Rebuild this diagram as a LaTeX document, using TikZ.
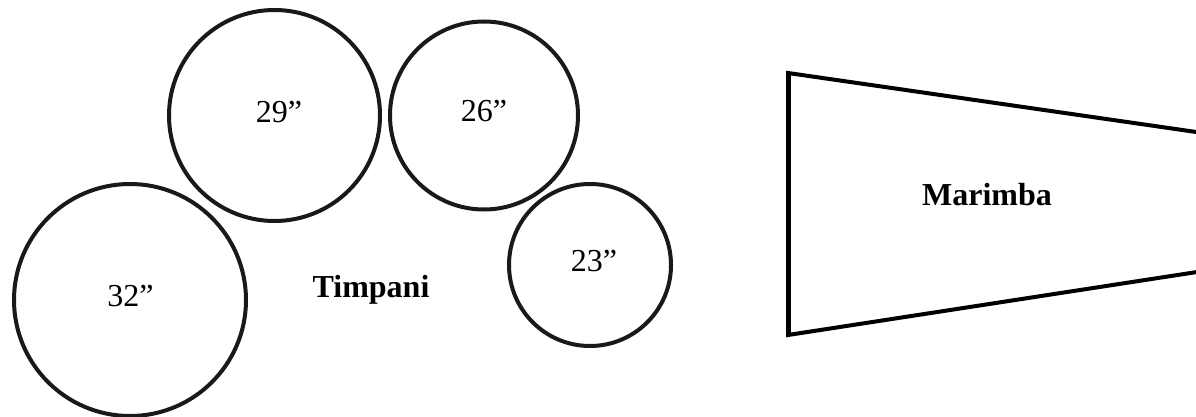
\documentclass[tikz,border=0pt]{standalone}
\usepackage{fontspec}
\setmainfont{Liberation Serif}
\begin{document}
\begin{tikzpicture}[x=1pt,y=-1pt,
  drum/.style={draw=black!90, line width=4pt},
  size/.style={font=\fontsize{32}{38}\selectfont, anchor=base, inner sep=0pt},
  title/.style={font=\fontsize{32}{38}\selectfont\bfseries, anchor=base, inner sep=0pt},
  edge/.style={draw=black, line width=4pt}]
\useasboundingbox (0,0) rectangle (1196,417);
\clip (0,0) rectangle (1196,417);
% timpani
\draw[drum] (130,300) circle[radius=116pt];
\draw[drum] (274.5,115.5) circle[radius=105.5pt];
\draw[drum] (484,115.5) circle[radius=94pt];
\draw[drum] (590,265) circle[radius=81pt];
\node[size] (t32) at (130.5,306) {32”};
\node[size] (t29) at (279,123) {29”};
\node[size] (t26) at (484,122) {26”};
\node[size] (t23) at (594,271) {23”};
\node[title] (timp) at (371,297) {Timpani};
% marimba
\draw[edge] (1210,134) -- (788,73) -- (788,335) -- (1210,270);
\draw[line width=5pt] (788,73) -- (788,335);
\node[title] (mar) at (987,205) {Marimba};
\end{tikzpicture}
\end{document}
